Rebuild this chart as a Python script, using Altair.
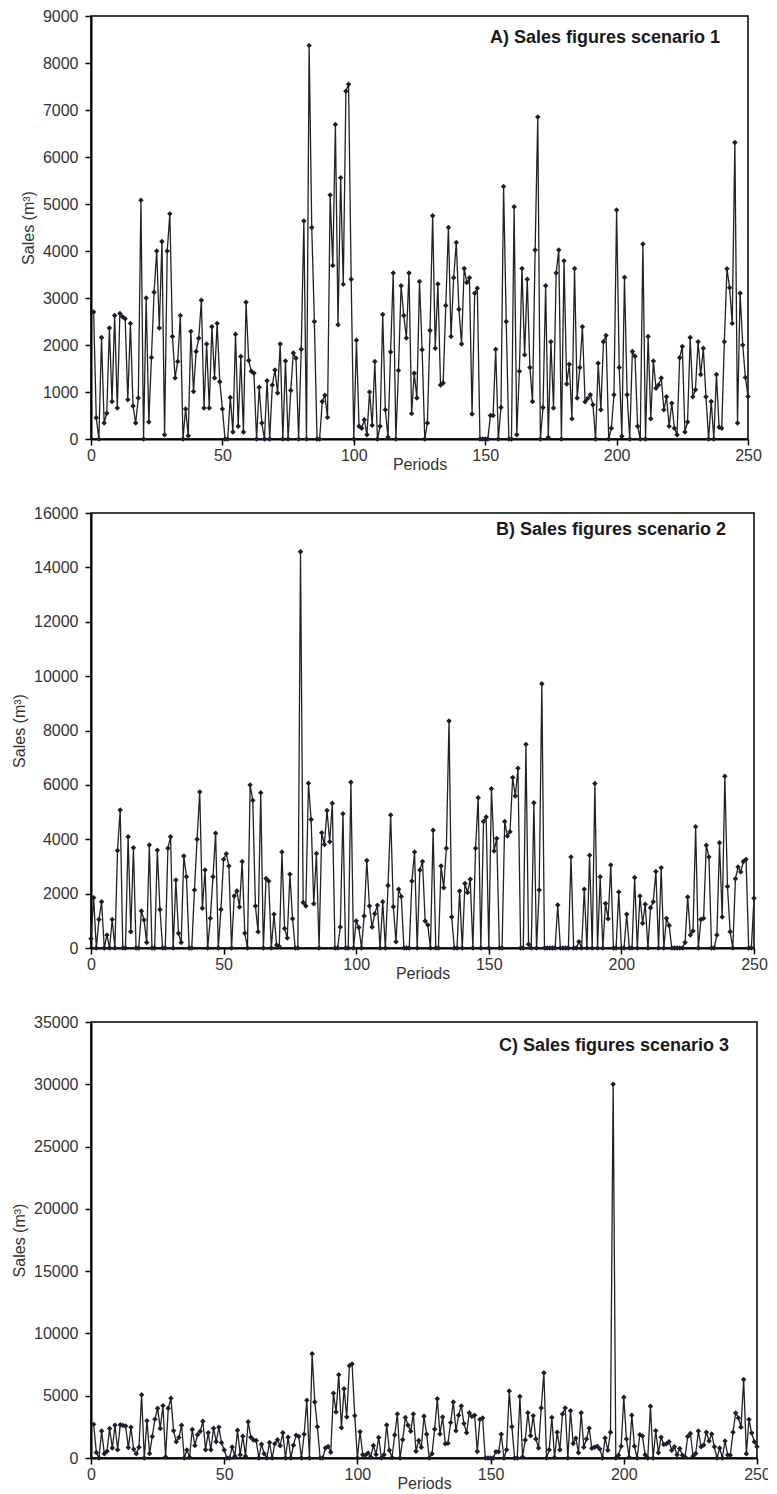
import altair as alt
import pandas as pd

# ---- Scenario 1 (panel A), periods 1..250 ----
periods_a = list(range(1, 251))
sales_a = [
    2700, 450, 0, 2160, 340, 550, 2360, 800, 2630, 660,
    2670, 2600, 2560, 835, 2460, 700, 340, 870, 5080, 0,
    3000, 360, 1735, 3120, 4000, 2360, 4200, 90, 4000, 4790,
    2180, 1300, 1650, 2630, 0, 640, 70, 2290, 1010, 1860,
    2145, 2950, 660, 2020, 660, 2390, 1300, 2460, 1220, 640,
    0, 0, 885, 150, 2230, 270, 1755, 150, 2910, 1670,
    1440, 1400, 0, 1100, 340, 0, 1240, 0, 1150, 1470,
    980, 2020, 0, 1660, 0, 1030, 1830, 1720, 0, 1910,
    4640, 0, 8375, 4500, 2500, 0, 0, 800, 930, 460,
    5190, 3690, 6690, 2430, 5560, 3290, 7400, 7550, 3400, 0,
    2100, 270, 230, 410, 90, 1000, 290, 1650, 0, 270,
    2650, 620, 40, 1850, 3530, 0, 1460, 3260, 2630, 2150,
    3530, 540, 1400, 870, 3350, 1900, 0, 340, 2310, 4750,
    1930, 3300, 1150, 1190, 2840, 4500, 2180, 3430, 4180, 2760,
    2020, 3630, 3330, 3430, 530, 3100, 3210, 0, 0, 0,
    0, 500, 500, 1910, 0, 670, 5370, 2500, 0, 0,
    4940, 90, 1440, 3630, 1790, 3400, 1520, 800, 4020, 6850,
    0, 670, 3260, 35, 2070, 660, 3530, 4020, 0, 3790,
    1170, 1590, 430, 3630, 870, 1520,
    2390, 790, 860, 940, 730, 0, 1610, 620, 2070, 2200,
    0, 230, 940, 4870, 1520, 57, 3440, 940, 0, 1860,
    1760, 270, 0, 4150, 0, 2180, 430, 1660, 1080, 1150,
    1300, 620, 900, 270, 760, 230, 90, 1730, 1970, 150,
    360, 2160, 900, 1050, 2070, 1370, 1930, 900, 0, 800,
    0, 1370, 250, 230, 2070, 3620, 3220, 2460, 6310, 340,
    3100, 2000, 1310, 906,
]

# ---- Scenario 2 (panel B), periods 0..250 ----
periods_b = list(range(0, 251))
sales_b = [
    340, 1850, 0, 1050, 1700, 0, 480, 0, 1050, 0,
    3590, 5075, 0, 0, 4095, 600, 3690, 0, 0, 1360,
    1030, 200, 3790, 0, 0, 3600, 1420, 0, 0, 3670,
    4095, 0, 2500, 540, 200, 3380, 2620, 0, 0, 2130,
    4000, 5740, 1460, 2870, 0, 1090, 2620, 4220, 0, 1420,
    3260, 3470, 3020, 0, 1910, 2100, 1510, 3180, 540, 0,
    6000, 5430, 1545, 600, 5710, 0, 2560, 2460, 0, 1240,
    110, 60, 3530, 720, 370, 2710, 1080, 0, 0, 14575,
    1670, 1545, 6056, 4730, 1630, 3480, 0, 4240, 3810, 5060,
    3910, 5320, 0, 0, 770, 4940, 0, 0, 6100, 0,
    990, 750, 0, 1180, 3220, 1545, 770, 1260, 1570, 0,
    1700, 0, 2300, 4890, 1520, 230, 2160, 1890, 0, 0,
    0, 2460, 3530, 0, 2870, 3180, 990, 850, 0, 4330,
    0, 0, 3020, 2220, 3670, 8350, 1140, 0, 0, 2100,
    0, 2370, 2040, 2530, 0, 3670, 5530, 0, 4650, 4820,
    0, 5860, 3570, 4030, 0, 0, 4650, 4120, 4280, 6270,
    5590, 6610, 0, 0, 7490, 135, 0, 5345, 0, 2130,
    9720, 0, 0, 0, 0, 0, 1580, 0, 0, 0,
    0, 3350, 0, 0, 230, 0, 2160, 0, 3410, 0,
    6050, 0, 2620, 0, 1640, 1080, 3050, 0, 0, 2060,
    0, 0, 1240, 0, 0, 2590, 0, 1910, 910, 1610,
    0, 1480, 1700, 2810, 0, 2950, 0, 1090, 830, 0,
    0, 0, 0, 0, 200, 1880, 480, 625, 4460, 0,
    1050, 1090, 3780, 3350, 0, 0, 480, 3870, 1140, 6320,
    2260, 600, 0, 2550, 2980, 2800, 3180, 3260, 0, 0,
    1830,
]

# ---- Scenario 3 (panel C): same series as scenario 1 with one outlier at period 196 ----
periods_c = list(periods_a)
sales_c = list(sales_a)
sales_c[195] = 30000

x_ticks = [0, 50, 100, 150, 200, 250]

FONT = "Liberation Sans, Arial, Helvetica, sans-serif"
TITLE_FONT = "Liberation Sans Narrow, Liberation Sans, Arial, sans-serif"


def panel(periods, sales, ymax, ystep, width, height, label, title_y):
    df = pd.DataFrame({"Period": periods, "Sales": sales})
    x = alt.X(
        "Period:Q",
        scale=alt.Scale(domain=[0, 250], nice=False, zero=False),
        axis=alt.Axis(values=x_ticks, title="Periods", titlePadding=-7,
                      titleFontSize=16, labelPadding=2, labelFlush=False,
                      format="d"),
    )
    y = alt.Y(
        "Sales:Q",
        scale=alt.Scale(domain=[0, ymax], nice=False),
        axis=alt.Axis(values=list(range(0, ymax + 1, ystep)), title="Sales (m³)",
                      titleFontSize=16, titlePadding=6, labelPadding=7,
                      format="d"),
    )
    base = alt.Chart(df).encode(x=x, y=y)
    line = base.mark_line(color="#222222", strokeWidth=1.3)
    pts = base.mark_point(shape="diamond", filled=True, size=30,
                          color="#1c1c30", opacity=1)
    txt = alt.Chart(pd.DataFrame({"t": [label]})).mark_text(
        align="right", baseline="middle", font=TITLE_FONT, fontWeight="bold",
        fontSize=18, color="#1a1a1a",
    ).encode(x=alt.value(width - 28), y=alt.value(title_y), text="t:N")
    return alt.layer(line, pts, txt).properties(width=width, height=height)


a = panel(periods_a, sales_a, 9000, 1000, 657, 423, "A) Sales figures scenario 1", 22)
b = panel(periods_b, sales_b, 16000, 2000, 663, 435, "B) Sales figures scenario 2", 17)
c = panel(periods_c, sales_c, 35000, 5000, 666, 436, "C) Sales figures scenario 3", 24)

chart = (
    alt.vconcat(a, b, c, spacing=31)
    .properties(padding={"left": 2, "top": -1, "right": -4, "bottom": 0})
    .configure_view(stroke="black", strokeWidth=1.5)
    .configure_axis(
        grid=False,
        domainColor="black",
        domainWidth=2,
        tickColor="black",
        tickWidth=1.5,
        tickSize=6,
        labelFont=FONT,
        labelFontSize=16,
        labelColor="#333333",
        titleFont=FONT,
        titleFontWeight="normal",
        titleColor="#333333",
    )
)

chart.save("out.html", embed_options={"renderer": "svg", "actions": False})
